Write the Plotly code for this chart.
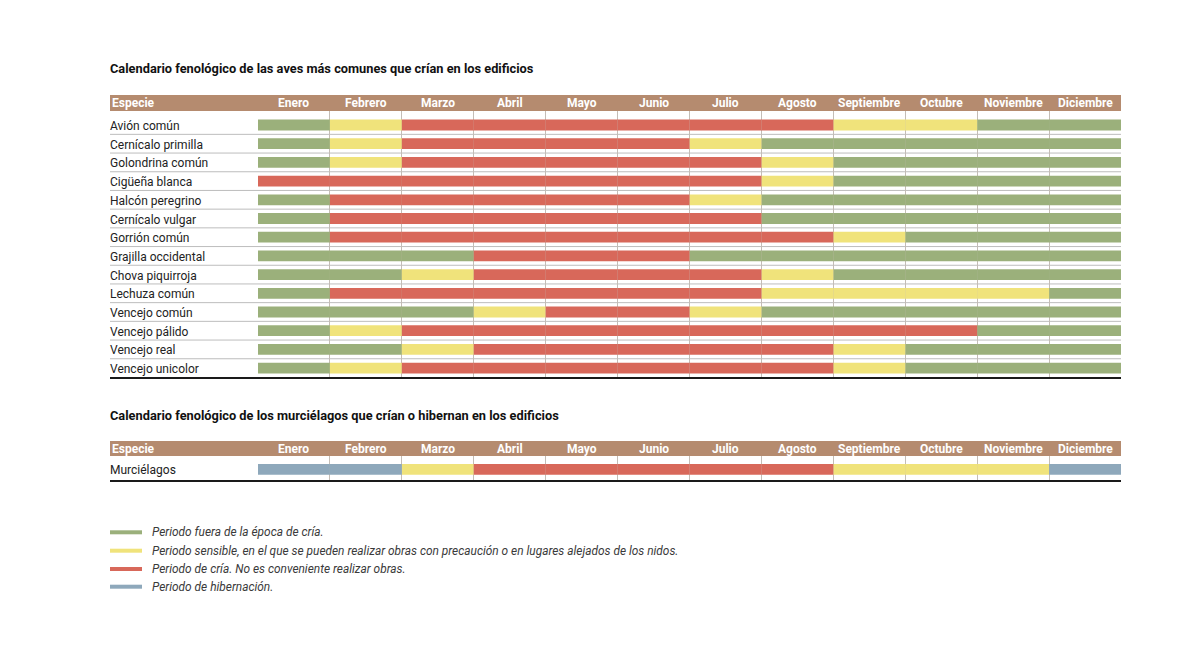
import plotly.graph_objects as go

# ---------------- data ----------------
months = ["Enero", "Febrero", "Marzo", "Abril", "Mayo", "Junio", "Julio",
          "Agosto", "Septiembre", "Octubre", "Noviembre", "Diciembre"]

bird_species = ["Avión común", "Cernícalo primilla", "Golondrina común",
                "Cigüeña blanca", "Halcón peregrino", "Cernícalo vulgar",
                "Gorrión común", "Grajilla occidental", "Chova piquirroja",
                "Lechuza común", "Vencejo común", "Vencejo pálido",
                "Vencejo real", "Vencejo unicolor"]

# G = fuera de cría, Y = sensible, R = cría, B = hibernación
bird_status = [
    ["G", "Y", "R", "R", "R", "R", "R", "R", "Y", "Y", "G", "G"],
    ["G", "Y", "R", "R", "R", "R", "Y", "G", "G", "G", "G", "G"],
    ["G", "Y", "R", "R", "R", "R", "R", "Y", "G", "G", "G", "G"],
    ["R", "R", "R", "R", "R", "R", "R", "Y", "G", "G", "G", "G"],
    ["G", "R", "R", "R", "R", "R", "Y", "G", "G", "G", "G", "G"],
    ["G", "R", "R", "R", "R", "R", "R", "G", "G", "G", "G", "G"],
    ["G", "R", "R", "R", "R", "R", "R", "R", "Y", "G", "G", "G"],
    ["G", "G", "G", "R", "R", "R", "G", "G", "G", "G", "G", "G"],
    ["G", "G", "Y", "R", "R", "R", "R", "Y", "G", "G", "G", "G"],
    ["G", "R", "R", "R", "R", "R", "R", "Y", "Y", "Y", "Y", "G"],
    ["G", "G", "G", "Y", "R", "R", "Y", "G", "G", "G", "G", "G"],
    ["G", "Y", "R", "R", "R", "R", "R", "R", "R", "R", "G", "G"],
    ["G", "G", "Y", "R", "R", "R", "R", "R", "Y", "G", "G", "G"],
    ["G", "Y", "R", "R", "R", "R", "R", "R", "Y", "G", "G", "G"],
]

bat_species = ["Murciélagos"]
bat_status = [
    ["B", "B", "Y", "R", "R", "R", "R", "R", "Y", "Y", "Y", "B"],
]

legend_codes = ["G", "Y", "R", "B"]
legend_texts = [
    "Periodo fuera de la época de cría.",
    "Periodo sensible, en el que se pueden realizar obras con precaución o en lugares alejados de los nidos.",
    "Periodo de cría. No es conveniente realizar obras.",
    "Periodo de hibernación.",
]

title_birds = "Calendario fenológico de las aves más comunes que crían en los edificios"
title_bats = "Calendario fenológico de los murciélagos que crían o hibernan en los edificios"
header_first = "Especie"

# ---------------- styles ----------------
W, H = 1200, 662
OFF = 8  # page body margin offset
COLORS = {"G": "#9bb07b", "Y": "#f0e37b", "R": "#d8685a", "B": "#8ea8bb"}
BROWN = "#b58b6f"
GRID = "#c4bdb6"
SEP = "#bdbdbd"
TXT = "#222222"
LABEL_FONT = "Roboto, 'Open Sans', sans-serif"


def px(x):
    return (x - OFF) / W


def py(y):
    return 1 - (y - OFF) / H


fig = go.Figure()


def add_table(status, xa, ya):
    n = len(status)
    for code in ["G", "Y", "R", "B"]:
        ys, bases = [], []
        for r in range(n):
            for m in range(len(months)):
                if status[r][m] == code:
                    ys.append(r)
                    bases.append(m)
        if not ys:
            continue
        fig.add_trace(go.Bar(
            orientation="h", y=ys, x=[1] * len(ys), base=bases,
            width=0.58, marker=dict(color=COLORS[code], line=dict(width=0)),
            xaxis=xa, yaxis=ya, showlegend=False, hoverinfo="skip"))


add_table(bird_status, "x", "y")
add_table(bat_status, "x2", "y2")

pitch = 18.7
# table geometry in pixels
t1_top, t1_bottom, t1_c0 = 111, 378, 125.0
t2_top, t2_bottom, t2_c0 = 456, 481, 469.3

xcommon = dict(range=[0, 12], domain=[px(258), px(1121)], tickvals=list(range(13)),
               showticklabels=False, showgrid=True, gridcolor=GRID, gridwidth=1,
               zeroline=False, showline=False, ticks="", fixedrange=True)

fig.update_layout(
    width=W, height=H, margin=dict(l=0, r=0, t=0, b=0),
    paper_bgcolor="white", plot_bgcolor="rgba(0,0,0,0)",
    barmode="overlay", showlegend=False,
    xaxis=dict(**xcommon, anchor="y"),
    xaxis2=dict(**xcommon, anchor="y2"),
    yaxis=dict(domain=[py(t1_bottom), py(t1_top)],
               range=[(t1_bottom - t1_c0) / pitch, (t1_top - t1_c0) / pitch],
               showticklabels=False, showgrid=False, zeroline=False, anchor="x"),
    yaxis2=dict(domain=[py(t2_bottom), py(t2_top)],
                range=[(t2_bottom - t2_c0) / pitch, (t2_top - t2_c0) / pitch],
                showticklabels=False, showgrid=False, zeroline=False, anchor="x2"),
)

shapes = []
annotations = []


def table_decor(species, ya, yref, header_top, header_bottom, title, title_y):
    # title
    annotations.append(dict(text="<b>" + title + "</b>", xref="paper", yref="paper",
                            x=px(110), y=py(title_y), xanchor="left", yanchor="middle",
                            showarrow=False, borderpad=0, xshift=-1,
                            font=dict(family=LABEL_FONT, size=12.8, color="#111")))
    # header bar
    shapes.append(dict(type="rect", xref="paper", yref="paper",
                       x0=px(110), x1=px(1121), y0=py(header_bottom), y1=py(header_top),
                       fillcolor=BROWN, line=dict(width=0), layer="below"))
    hy = py((header_top + header_bottom) / 2)
    annotations.append(dict(text="<b>" + header_first + "</b>", xref="paper", yref="paper",
                            x=px(112), y=hy, xanchor="left", yanchor="middle",
                            showarrow=False, borderpad=0, xshift=-1,
                            font=dict(family=LABEL_FONT, size=12, color="white")))
    xr = "x" if ya == "y" else "x2"
    for i, m in enumerate(months):
        annotations.append(dict(text="<b>" + m + "</b>", xref=xr, yref="paper",
                                x=i + 0.5, y=hy, xanchor="center", yanchor="middle",
                                showarrow=False,
                                font=dict(family=LABEL_FONT, size=12, color="white")))
    # row labels and separators
    for r, s in enumerate(species):
        annotations.append(dict(text=s, xref="paper", yref=yref, x=px(110), y=r,
                                xanchor="left", yanchor="middle", showarrow=False,
                                borderpad=0, xshift=-1, yshift=-1,
                                font=dict(family=LABEL_FONT, size=12, color=TXT)))
        if r < len(species) - 1:
            shapes.append(dict(type="line", xref="paper", yref=yref,
                               x0=px(110), x1=px(1121), y0=r + 0.5, y1=r + 0.5,
                               line=dict(color=SEP, width=1), layer="below"))
    # bottom rule
    shapes.append(dict(type="line", xref="paper", yref=yref + " domain",
                       x0=px(110), x1=px(1121), y0=0, y1=0,
                       line=dict(color="#1a1a1a", width=2)))


table_decor(bird_species, "y", "y", 95, 111, title_birds, 68)
table_decor(bat_species, "y2", "y2", 441, 456, title_bats, 415)

# legend
leg_y = [532.3, 550.7, 569.0, 586.7]
for code, text, yy in zip(legend_codes, legend_texts, leg_y):
    shapes.append(dict(type="rect", xref="paper", yref="paper",
                       x0=px(110), x1=px(142), y0=py(yy + 2), y1=py(yy - 2),
                       fillcolor=COLORS[code], line=dict(width=0)))
    annotations.append(dict(text="<i>" + text + "</i>", xref="paper", yref="paper",
                            x=px(152), y=py(yy), xanchor="left", yanchor="middle",
                            showarrow=False, borderpad=0, xshift=-1,
                            font=dict(family=LABEL_FONT, size=11.9, color="#3a3a3a")))

fig.update_layout(shapes=shapes, annotations=annotations)
fig.write_html("out.html")
